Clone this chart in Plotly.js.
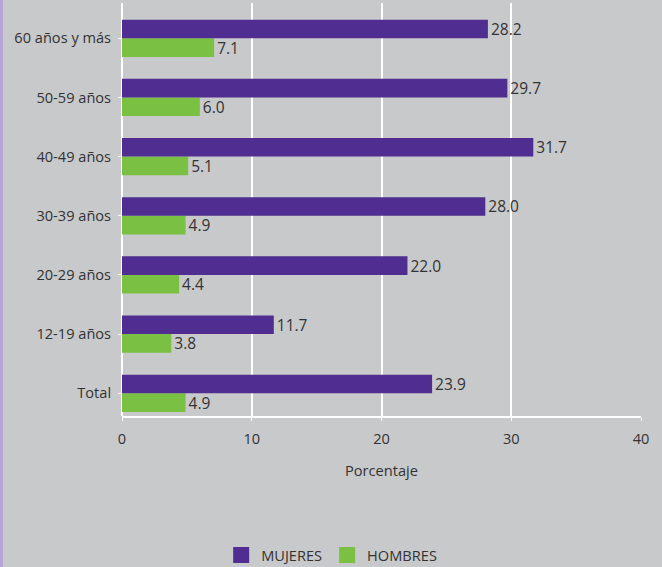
<!DOCTYPE html>
<html>
<head>
<meta charset="utf-8">
<script src="https://cdn.plot.ly/plotly-3.0.1.min.js"></script>
<style>
  html, body { margin: 0; padding: 0; background: #c8c9cb; }
  #wrap { position: relative; width: 662px; height: 567px; }
  #strip { position: absolute; left: 0; top: 0; width: 3px; height: 567px; background: #b6a6d6; z-index: 5; }
  #chart { width: 662px; height: 567px; }
</style>
</head>
<body>
<div id="wrap"><div id="strip"></div><div id="chart"></div></div>
<script>
const categories = ["Total", "12-19 años", "20-29 años", "30-39 años", "40-49 años", "50-59 años", "60 años y más"];
const mujeres = [23.9, 11.7, 22.0, 28.0, 31.7, 29.7, 28.2];
const hombres = [4.9, 3.8, 4.4, 4.9, 5.1, 6.0, 7.1];
const xTicks = [0, 10, 20, 30, 40];
const seriesNames = ["MUJERES", "HOMBRES"];
const seriesColors = ["#4f2d91", "#7ac143"];

const fam = "Open Sans, Noto Sans, sans-serif";
const font = { family: fam, size: 14.6, color: "#333333" };
const barFont = { family: fam, size: 15.5, color: "#333333" };

const traces = [
  {
    type: "bar", orientation: "h", name: seriesNames[1], showlegend: false,
    y: categories, x: hombres,
    marker: { color: seriesColors[1] },
    text: hombres.map(v => v.toFixed(1)), textposition: "outside",
    constraintext: "none",
    textfont: barFont, cliponaxis: false, hoverinfo: "x+y"
  },
  {
    type: "bar", orientation: "h", name: seriesNames[0], showlegend: false,
    y: categories, x: mujeres,
    marker: { color: seriesColors[0] },
    text: mujeres.map(v => v.toFixed(1)), textposition: "outside",
    constraintext: "none",
    textfont: barFont, cliponaxis: false, hoverinfo: "x+y"
  },
  // legend-only entries (larger square swatches)
  {
    type: "scatter", mode: "markers", name: seriesNames[0],
    x: [null], y: [null], showlegend: true, hoverinfo: "skip",
    marker: { symbol: "square", size: 18, color: seriesColors[0] }
  },
  {
    type: "scatter", mode: "markers", name: seriesNames[1],
    x: [null], y: [null], showlegend: true, hoverinfo: "skip",
    marker: { symbol: "square", size: 18, color: seriesColors[1] }
  }
];

const layout = {
  width: 662, height: 567,
  margin: { l: 122, r: 21, t: 3, b: 151, autoexpand: false },
  paper_bgcolor: "#c8c9cb",
  plot_bgcolor: "#c8c9cb",
  font: font,
  barmode: "group",
  bargap: 0.37,
  bargroupgap: 0,
  showlegend: true,
  legend: {
    orientation: "h", traceorder: "normal", itemsizing: "trace",
    x: 0.404, xanchor: "center", y: -0.3366, yanchor: "middle",
    font: font,
    itemwidth: 30
  },
  xaxis: {
    range: [0, 40],
    tickvals: xTicks,
    ticktext: xTicks.map(String),
    showgrid: true, gridcolor: "#ffffff", gridwidth: 2,
    zeroline: true, zerolinecolor: "#ffffff", zerolinewidth: 2,
    showline: true, linecolor: "#ffffff", linewidth: 2,
    ticks: "outside", ticklen: 3, tickcolor: "#ffffff",
    ticklabelstandoff: 5,
    tickfont: font,
    title: { text: "Porcentaje", font: font, standoff: 19 }
  },
  yaxis: {
    type: "category",
    categoryorder: "array", categoryarray: categories,
    range: [-0.384, 6.596],
    showgrid: false, zeroline: false,
    showline: false,
    ticks: "outside", ticklen: 3, tickcolor: "#ffffff",
    ticklabelstandoff: 4,
    tickfont: font
  }
};

Plotly.newPlot("chart", traces, layout, { displayModeBar: false, staticPlot: true });
</script>
</body>
</html>
